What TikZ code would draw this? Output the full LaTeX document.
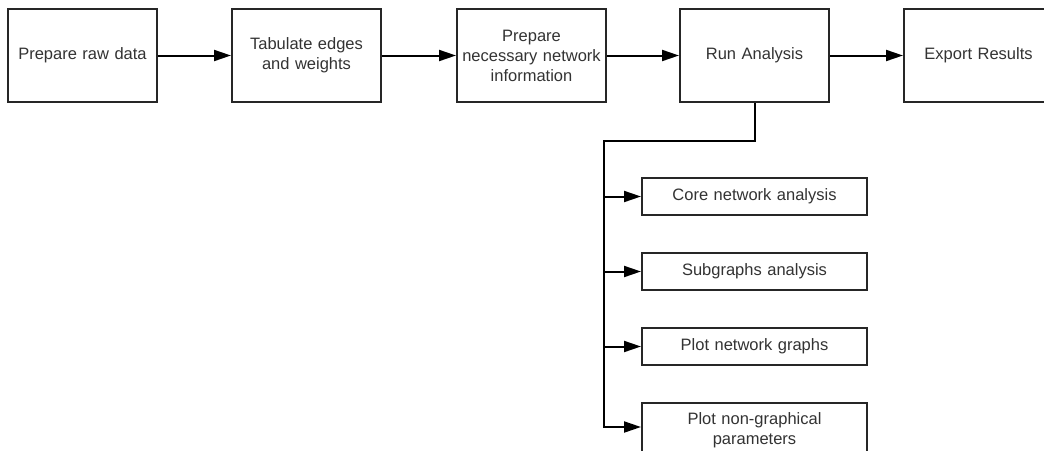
\documentclass[tikz,border=0pt]{standalone}
\usepackage{fontspec}
\setmainfont{Liberation Sans}
\usetikzlibrary{arrows.meta}
\begin{document}
\begin{tikzpicture}[x=1pt,y=-1pt,
  box/.style={draw=black!85, line width=2pt, fill=white, inner sep=2pt,
    font=\fontsize{16.5}{20}\selectfont, text=black!80, align=center},
  topbox/.style={box, minimum width=149pt, minimum height=93pt, text width=140pt},
  subbox/.style={box, minimum width=225pt, minimum height=37pt, text width=215pt},
  conn/.style={draw=black, line width=2pt},
  arr/.style={conn, -{Triangle[length=17pt,width=11pt]}}]
\useasboundingbox (0,0) rectangle (1044,450);
\clip (0,0) rectangle (1044,450);
\node[topbox] (b1) at (82.5,55.5) {Prepare raw data};
\node[topbox] (b2) at (306.5,55.5) {Tabulate edges\\and weights};
\node[topbox] (b3) at (531.5,55.5) {Prepare\\necessary network\\information};
\node[topbox] (b4) at (754.5,55.5) {Run Analysis};
\node[topbox] (b5) at (978.5,55.5) {Export Results};
\node[subbox] (s1) at (754.5,196.5) {Core network analysis};
\node[subbox] (s2) at (754.5,271.5) {Subgraphs analysis};
\node[subbox] (s3) at (754.5,346.5) {Plot network graphs};
\node[subbox, minimum height=54pt] (s4) at (754.5,430) {Plot non-graphical\\parameters\\[-3pt]};
\draw[arr] (b1) -- (b2);
\draw[arr] (b2) -- (b3);
\draw[arr] (b3) -- (b4);
\draw[arr] (b4) -- (b5);
\coordinate (t) at (604,141);
\coordinate (tb) at (604,427);
\draw[arr] (b4.south) |- (t) -- (tb) -- (tb -| s4.west);
\draw[arr] (s1.west -| t) -- (s1.west);
\draw[arr] (s2.west -| t) -- (s2.west);
\draw[arr] (s3.west -| t) -- (s3.west);
\end{tikzpicture}
\end{document}
